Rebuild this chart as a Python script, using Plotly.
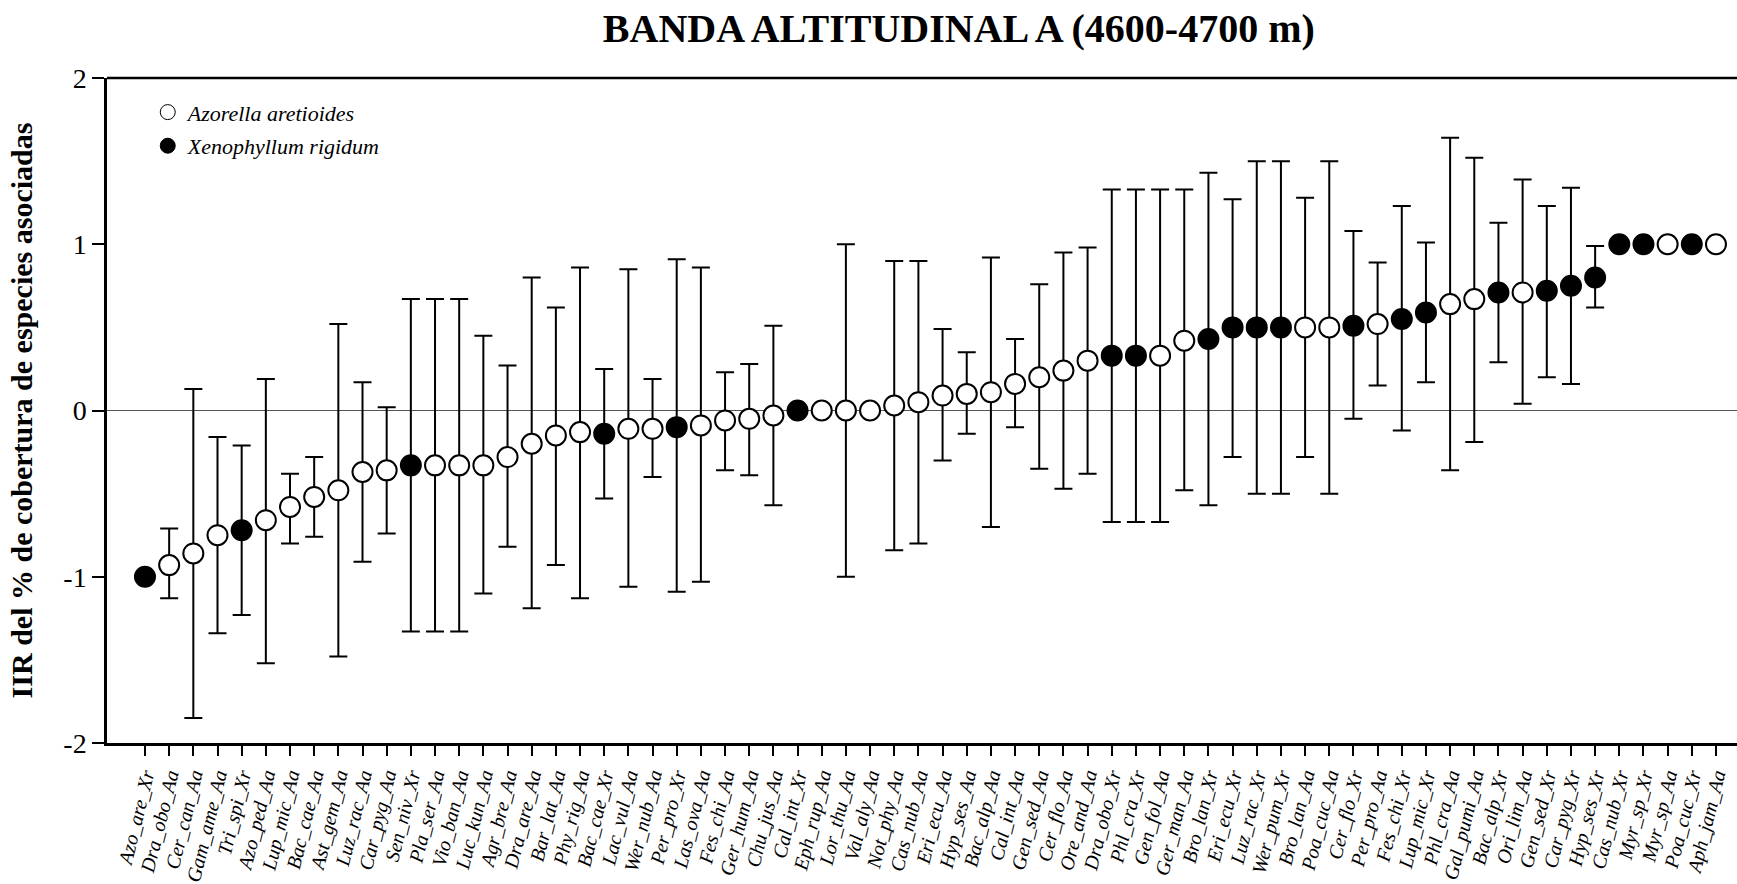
import plotly.graph_objects as go

categories = ["Azo_are_Xr","Dra_obo_Aa","Cer_can_Aa","Gam_ame_Aa","Tri_spi_Xr","Azo_ped_Aa","Lup_mic_Aa",
    "Bac_cae_Aa","Ast_gem_Aa","Luz_rac_Aa","Car_pyg_Aa","Sen_niv_Xr","Pla_ser_Aa","Vio_ban_Aa","Luc_kun_Aa",
    "Agr_bre_Aa","Dra_are_Aa","Bar_lat_Aa","Phy_rig_Aa","Bac_cae_Xr","Lac_vul_Aa","Wer_nub_Aa","Per_pro_Xr",
    "Las_ova_Aa","Fes_chi_Aa","Ger_hum_Aa","Chu_jus_Aa","Cal_int_Xr","Eph_rup_Aa","Lor_thu_Aa","Val_aly_Aa",
    "Not_phy_Aa","Cas_nub_Aa","Eri_ecu_Aa","Hyp_ses_Aa","Bac_alp_Aa","Cal_int_Aa","Gen_sed_Aa","Cer_flo_Aa",
    "Ore_and_Aa","Dra_obo_Xr","Phl_cra_Xr","Gen_fol_Aa","Ger_man_Aa","Bro_lan_Xr","Eri_ecu_Xr","Luz_rac_Xr",
    "Wer_pum_Xr","Bro_lan_Aa","Poa_cuc_Aa","Cer_flo_Xr","Per_pro_Aa","Fes_chi_Xr","Lup_mic_Xr","Phl_cra_Aa",
    "Gal_pumi_Aa","Bac_alp_Xr","Ori_lim_Aa","Gen_sed_Xr","Car_pyg_Xr","Hyp_ses_Xr","Cas_nub_Xr","Myr_sp_Xr",
    "Myr_sp_Aa","Poa_cuc_Xr","Aph_jam_Aa"]

iir = [-1.00,-0.93,-0.86,-0.75,-0.72,-0.66,-0.58,-0.52,-0.48,-0.37,-0.36,-0.33,-0.33,-0.33,-0.33,
       -0.28,-0.20,-0.15,-0.13,-0.14,-0.11,-0.11,-0.10,-0.09,-0.06,-0.05,-0.03,0.00,0.00,0.00,0.00,
       0.03,0.05,0.09,0.10,0.11,0.16,0.20,0.24,0.30,0.33,0.33,0.33,0.42,0.43,0.50,0.50,0.50,0.50,0.50,
       0.51,0.52,0.55,0.59,0.64,0.67,0.71,0.71,0.72,0.75,0.80,1.00,1.00,1.00,1.00,1.00]

upper = [None,-0.71,0.13,-0.16,-0.21,0.19,-0.38,-0.28,0.52,0.17,0.02,0.67,0.67,0.67,0.45,
         0.27,0.80,0.62,0.86,0.25,0.85,0.19,0.91,0.86,0.23,0.28,0.51,None,None,1.00,None,
         0.90,0.90,0.49,0.35,0.92,0.43,0.76,0.95,0.98,1.33,1.33,1.33,1.33,1.43,1.27,1.50,1.50,1.28,1.50,
         1.08,0.89,1.23,1.01,1.64,1.52,1.13,1.39,1.23,1.34,0.99,None,None,None,None,None]

lower = [None,-1.13,-1.85,-1.34,-1.23,-1.52,-0.80,-0.76,-1.48,-0.91,-0.74,-1.33,-1.33,-1.33,-1.10,
         -0.82,-1.19,-0.93,-1.13,-0.53,-1.06,-0.40,-1.09,-1.03,-0.36,-0.39,-0.57,None,None,-1.00,None,
         -0.84,-0.80,-0.30,-0.14,-0.70,-0.10,-0.35,-0.47,-0.38,-0.67,-0.67,-0.67,-0.48,-0.57,-0.28,-0.50,-0.50,-0.28,-0.50,
         -0.05,0.15,-0.12,0.17,-0.36,-0.19,0.29,0.04,0.20,0.16,0.62,None,None,None,None,None]

nurse = ["Xr" if c.endswith("_Xr") else "Aa" for c in categories]

y_ticks = [-2, -1, 0, 1, 2]

err_plus = [(u - v) if u is not None else 0 for u, v in zip(upper, iir)]
err_minus = [(v - l) if l is not None else 0 for l, v in zip(lower, iir)]
fill = ["black" if n == "Xr" else "white" for n in nurse]

SERIF = "Liberation Serif, Times New Roman, serif"

fig = go.Figure()
fig.add_trace(go.Scatter(
    x=categories, y=iir, mode="markers", showlegend=False,
    marker=dict(size=20, color=fill, line=dict(color="black", width=2)),
    error_y=dict(type="data", symmetric=False, array=err_plus, arrayminus=err_minus,
                 color="black", thickness=2, width=9),
))
fig.add_trace(go.Scatter(x=[None], y=[None], mode="markers", name="<i>Azorella aretioides</i>",
                         legendgroup="a",
                         marker=dict(size=15, color="white", line=dict(color="black", width=1))))
fig.add_trace(go.Scatter(x=[None], y=[None], mode="markers", name="<i>Xenophyllum rigidum</i>",
                         legendgroup="x",
                         marker=dict(size=15, color="black", line=dict(color="black", width=1))))

fig.add_shape(type="line", xref="paper", yref="y", x0=0, x1=1, y0=0, y1=0,
              line=dict(color="#555555", width=1.2), layer="below")
fig.add_shape(type="line", xref="paper", yref="paper", x0=0, x1=1, y0=1, y1=1,
              line=dict(color="black", width=2.5))

fig.update_layout(
    width=1737, height=884,
    margin=dict(l=107, r=0, t=78, b=141),
    paper_bgcolor="white", plot_bgcolor="white",
    title=dict(text="<b>BANDA ALTITUDINAL A (4600-4700 m)</b>", x=0.552, xanchor="center",
               y=0.968, yanchor="middle", font=dict(family=SERIF, size=40, color="black")),
    legend=dict(x=0.025, y=0.98, xanchor="left", yanchor="top", bgcolor="rgba(0,0,0,0)",
                font=dict(family=SERIF, size=22, color="black"),
                itemwidth=30, tracegroupgap=2),
    xaxis=dict(type="category", range=[-1.572, 65.87], showline=True, linecolor="black", linewidth=2.5,
               ticks="outside", ticklen=10, tickwidth=2, tickcolor="black", showgrid=False,
               tickangle=-76, tickvals=categories, ticktext=["<i>" + c + "</i>" for c in categories],
               tickfont=dict(family=SERIF, size=20, color="black"),
               zeroline=False),
    yaxis=dict(range=[-2, 2], tickvals=y_ticks, ticktext=[str(t) for t in y_ticks], showline=True,
               linecolor="black", linewidth=2.5, ticks="outside", ticklen=12, tickwidth=2,
               tickcolor="black", showgrid=False, zeroline=False,
               tickfont=dict(family=SERIF, size=28, color="black"),
               title=dict(text="<b>IIR del % de cobertura de especies asociadas</b>", standoff=22,
                          font=dict(family=SERIF, size=30, color="black"))),
)

fig.write_html("out.html")
